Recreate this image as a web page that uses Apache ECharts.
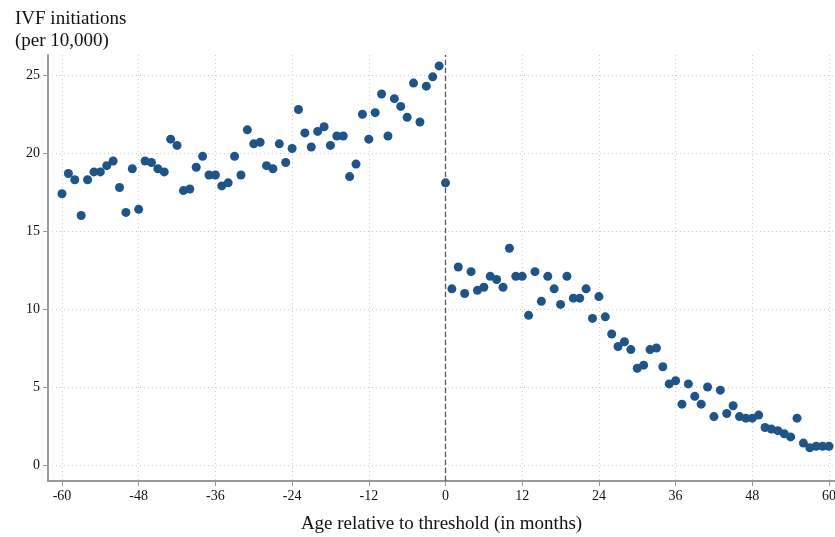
<!DOCTYPE html>
<html>
<head>
<meta charset="UTF-8">
<script src="https://cdn.jsdelivr.net/npm/echarts@6/dist/echarts.min.js"></script>
<style>html,body{margin:0;background:#fff}#main{width:835px;height:537px}</style>
</head>
<body>
<div id="main"></div>
<script>
// months relative to threshold, -60..60
var months = [];
for (var m = -60; m <= 60; m++) months.push(m);
var rates = [
  17.4, 18.7, 18.3, 16.0, 18.3, 18.8, 18.8, 19.2, 19.5, 17.8,
  16.2, 19.0, 16.4, 19.5, 19.4, 19.0, 18.8, 20.9, 20.5, 17.6,
  17.7, 19.1, 19.8, 18.6, 18.6, 17.9, 18.1, 19.8, 18.6, 21.5,
  20.6, 20.7, 19.2, 19.0, 20.6, 19.4, 20.3, 22.8, 21.3, 20.4,
  21.4, 21.7, 20.5, 21.1, 21.1, 18.5, 19.3, 22.5, 20.9, 22.6,
  23.8, 21.1, 23.5, 23.0, 22.3, 24.5, 22.0, 24.3, 24.9, 25.6,
  18.1,
  11.3, 12.7, 11.0, 12.4, 11.2, 11.4, 12.1, 11.9, 11.4, 13.9,
  12.1, 12.1, 9.6, 12.4, 10.5, 12.1, 11.3, 10.3, 12.1, 10.7,
  10.7, 11.3, 9.4, 10.8, 9.5, 8.4, 7.6, 7.9, 7.4, 6.2,
  6.4, 7.4, 7.5, 6.3, 5.2, 5.4, 3.9, 5.2, 4.4, 3.9,
  5.0, 3.1, 4.8, 3.3, 3.8, 3.1, 3.0, 3.0, 3.2, 2.4,
  2.3, 2.2, 2.0, 1.8, 3.0, 1.4, 1.1, 1.2, 1.2, 1.2
];
var xTicks = [-60, -48, -36, -24, -12, 0, 12, 24, 36, 48, 60];
var yTicks = [0, 5, 10, 15, 20, 25];

var points = months.map(function (m, i) { return [m, rates[i]]; });
var font = 'Liberation Serif';
var gridLine = {show: true, lineStyle: {color: '#cccccc', type: [1, 3], width: 1}};

var chart = echarts.init(document.getElementById('main'));
chart.setOption({
  animation: false,
  textStyle: {fontFamily: font},
  title: {
    text: 'IVF initiations\n(per 10,000)', left: 10, top: 3,
    textStyle: {fontFamily: font, fontSize: 19, fontWeight: 'normal', color: '#111', lineHeight: 22}
  },
  grid: {left: 48, right: 0, top: 55, bottom: 56, outerBoundsMode: 'none', containLabel: false},
  xAxis: {
    type: 'value', min: -62.19, max: 60.94,
    name: 'Age relative to threshold (in months)', nameLocation: 'middle', nameGap: 34,
    nameTextStyle: {fontFamily: font, fontSize: 19, color: '#111'},
    axisLine: {show: true, onZero: false, lineStyle: {color: '#999', width: 2}},
    axisTick: {show: true, length: 5, customValues: xTicks, lineStyle: {color: '#999'}},
    axisLabel: {customValues: xTicks, fontSize: 14, color: '#111', fontFamily: font},
    splitLine: gridLine
  },
  yAxis: {
    type: 'value', min: -1.03, max: 26.3,
    axisLine: {show: true, onZero: false, lineStyle: {color: '#999', width: 2}},
    axisTick: {show: true, length: 5, customValues: yTicks, lineStyle: {color: '#999'}},
    axisLabel: {customValues: yTicks, fontSize: 14, color: '#111', fontFamily: font},
    splitLine: gridLine
  },
  series: [{
    type: 'scatter', data: points, symbolSize: 9,
    itemStyle: {color: '#1f5488', opacity: 1},
    markLine: {
      silent: true, symbol: 'none', label: {show: false},
      lineStyle: {color: '#555', type: [5, 3], width: 1.3},
      data: [{xAxis: 0}]
    }
  }]
});
</script>
</body>
</html>
